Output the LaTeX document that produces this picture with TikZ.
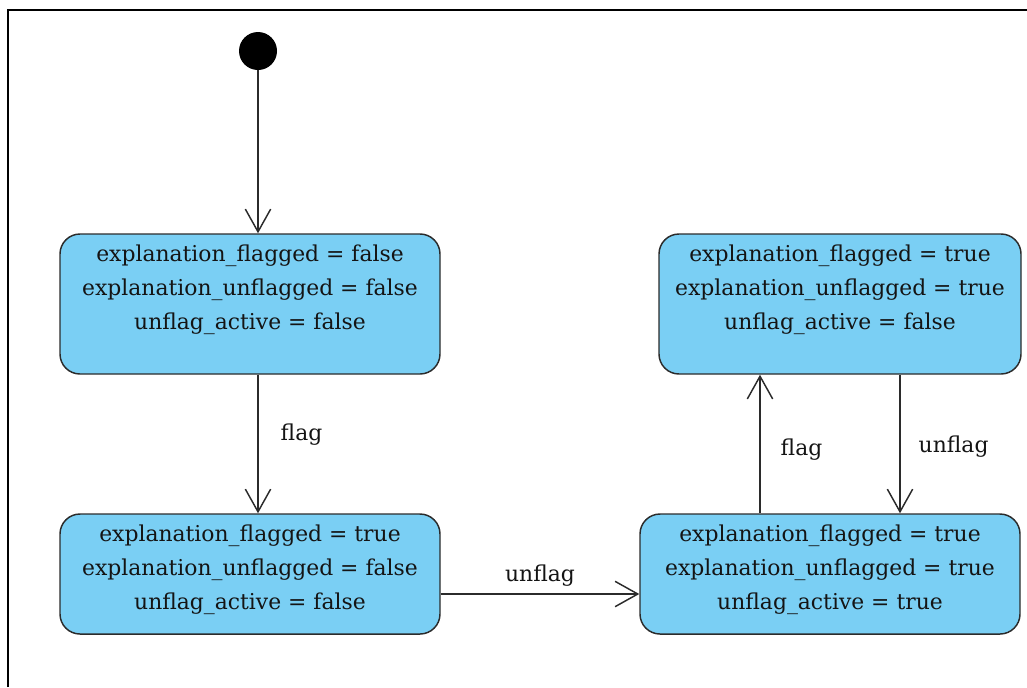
\documentclass[tikz,border=0pt]{standalone}
\usepackage{fontspec}
\setmainfont{DejaVu Serif}
\usetikzlibrary{arrows.meta,positioning}
\definecolor{StateFill}{HTML}{7ACFF4}
\definecolor{Ink}{HTML}{2B2B2B}
\definecolor{TextInk}{HTML}{141414}

\begin{document}
\begin{tikzpicture}[x=0.75pt,y=-0.75pt,
  state/.style={draw=Ink,line width=1.1pt,fill=StateFill,rounded corners=15pt,minimum width=285pt,inner sep=0pt},
  statetext/.style={font=\fontsize{16.4}{25.5}\selectfont,align=center,inner sep=0pt,text=TextInk},
  trans/.style={draw=Ink,line width=1.1pt,-{Straight Barb[length=17pt,width=19pt,line width=1.1pt]}},
  lbl/.style={font=\fontsize{16.4}{20}\selectfont,inner sep=0pt,text=TextInk}]
\useasboundingbox (0,0) rectangle (1027,687);
\draw[line width=1.5pt] (8,687) -- (8,10) -- (1027,10);
% states
\node[circle,fill=black,minimum size=28.5pt,inner sep=0pt] (init) at (258,51) {};
\node[state,minimum height=105pt] (sA) at (250,304) {};
\node[state,minimum height=90pt] (sB) at (250,574) {};
\node[state,minimum width=271.5pt,minimum height=105pt] (sC) at (840,304) {};
\node[state,minimum height=90pt] (sD) at (830,574) {};
\node[statetext,below=8.5pt of sA.north] (tA) {explanation\_flagged = false\\explanation\_unflagged = false\\unflag\_active = false};
\node[statetext,below=8.5pt of sB.north] (tB) {explanation\_flagged = true\\explanation\_unflagged = false\\unflag\_active = false};
\node[statetext,below=8.5pt of sC.north] (tC) {explanation\_flagged = true\\explanation\_unflagged = true\\unflag\_active = false};
\node[statetext,below=8.5pt of sD.north] (tD) {explanation\_flagged = true\\explanation\_unflagged = true\\unflag\_active = true};
% transitions
\draw[trans] (init) -- (init |- sA.north);
\draw[trans] (sA.south -| init) -- node[lbl,pos=0.43,right=16.5pt] (lAB) {flag} (sB.north -| init);
\draw[trans] ([yshift=-15pt]sB.east) -- node[lbl,above=5pt] (lBD) {unflag} ([yshift=-15pt]sD.west);
\draw[trans] ([xshift=-52.5pt]sD.north) -- node[lbl,pos=0.46,right=15pt] (lDC) {flag} ([xshift=-52.5pt]sD.north |- sC.south);
\draw[trans] ([xshift=45pt]sC.south) -- node[lbl,pos=0.52,right=13.5pt] (lCD) {unflag} ([xshift=45pt]sC.south |- sD.north);
\end{tikzpicture}
\end{document}
